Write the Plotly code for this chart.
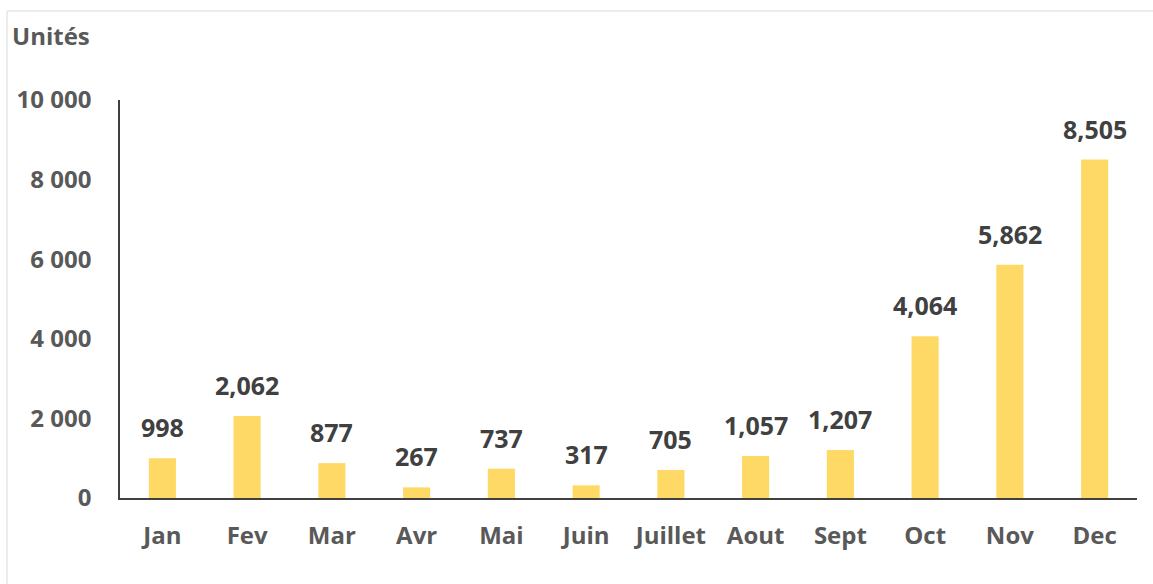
import plotly.graph_objects as go

months = ["Jan", "Fev", "Mar", "Avr", "Mai", "Juin", "Juillet", "Aout", "Sept", "Oct", "Nov", "Dec"]
units = [998, 2062, 877, 267, 737, 317, 705, 1057, 1207, 4064, 5862, 8505]
y_ticks = [0, 2000, 4000, 6000, 8000, 10000]
y_tick_labels = ["0", "2 000", "4 000", "6 000", "8 000", "10 000"]

FONT = "Open Sans"
fig = go.Figure()
fig.add_trace(go.Bar(x=months, y=units, marker=dict(color="#FFD966", line=dict(width=0)),
                     width=0.32, hoverinfo="x+y"))

for m, v in zip(months, units):
    fig.add_annotation(x=m, y=v, text=f"<b>{v:,}</b>", showarrow=False, yanchor="bottom",
                       yshift=12, font=dict(family=FONT, size=25, color="#404040"))

fig.add_annotation(xref="paper", yref="paper", x=-0.1082, y=1.163, text="<b>Unités</b>",
                   showarrow=False, xanchor="left", yanchor="middle",
                   font=dict(family=FONT, size=24, color="#595959"))

# outer chart border (only left and top edges are visible in the frame)
border = dict(color="#D9D9D9", width=1)
fig.add_shape(type="line", xref="paper", yref="paper", x0=-0.1111, y0=-0.3, x1=-0.1111, y1=1.2236,
              line=border, layer="below")
fig.add_shape(type="line", xref="paper", yref="paper", x0=-0.1111, y0=1.2236, x1=1.1, y1=1.2236,
              line=border, layer="below")

fig.update_layout(
    width=1153, height=584,
    margin=dict(l=120, r=16, t=100, b=86),
    plot_bgcolor="white", paper_bgcolor="white",
    showlegend=False,
    xaxis=dict(showline=True, linecolor="#404040", linewidth=1.5, showgrid=False,
               tickvals=months, ticktext=[f"<b>{m}</b>" for m in months],
               ticks="outside", ticklen=15, tickcolor="rgba(0,0,0,0)",
               tickfont=dict(family=FONT, size=24, color="#595959")),
    yaxis=dict(range=[0, 10000], tickvals=y_ticks, ticktext=[f"<b>{t}</b>" for t in y_tick_labels],
               showline=True, linecolor="#404040", linewidth=1.5, showgrid=False, zeroline=False,
               ticks="outside", ticklen=22, tickcolor="rgba(0,0,0,0)",
               tickfont=dict(family=FONT, size=24, color="#595959")),
)
fig.write_html("out.html", config={"displayModeBar": False},
               post_script="document.body.style.margin='0px';document.body.style.overflow='hidden';")
